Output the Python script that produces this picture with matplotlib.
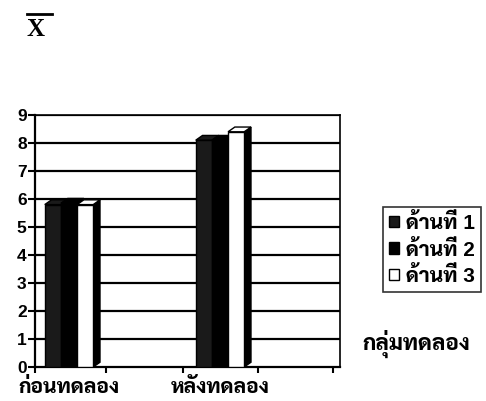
import matplotlib
matplotlib.use('Agg')
import matplotlib.pyplot as plt
from matplotlib.patches import Polygon
from matplotlib.lines import Line2D
import numpy as np

plt.rcParams['font.family'] = ['Liberation Sans', 'Sarabun', 'DejaVu Sans']

categories = ['ก่อนทดลอง', 'หลังทดลอง']
series_names = ['ด้านที่ 1', 'ด้านที่ 2', 'ด้านที่ 3']
side1 = [5.8, 8.1]
side2 = [5.85, 8.1]
side3 = [5.8, 8.4]
yticks = [0, 1, 2, 3, 4, 5, 6, 7, 8, 9]
xlabel_text = 'กลุ่มทดลอง'

fig = plt.figure(figsize=(4.86, 4.01), dpi=100)
ax = fig.add_axes([35/486, 34/401, 305/486, 252/401])

x = np.arange(len(categories))
w = 0.107
dx, dy = 0.045, 0.17
face = ['#1a1a1a', 'black', 'white']
vals = [side1, side2, side3]
offsets = [-w, 0, w]

ax.set_xlim(-0.225, 1.795)
ax.set_ylim(0, 9)

for v in yticks[1:]:
    ax.axhline(v, color='black', lw=1.6, zorder=1)

handles = []
for i, (vs, off) in enumerate(zip(vals, offsets)):
    b = ax.bar(x + off, vs, width=w, color=face[i], edgecolor='black',
               linewidth=1.0, zorder=3, label=series_names[i])
    handles.append(b)
    for xc, v in zip(x + off, vs):
        l, r = xc - w/2, xc + w/2
        side = Polygon([[r, 0], [r + dx, dy], [r + dx, v + dy], [r, v]],
                       closed=True, facecolor='black', edgecolor='black',
                       lw=1.0, zorder=2.5 + i*0.1)
        top = Polygon([[l, v], [l + dx, v + dy], [r + dx, v + dy], [r, v]],
                      closed=True, facecolor=face[i], edgecolor='black',
                      lw=1.0, zorder=2.5 + i*0.1)
        ax.add_patch(side)
        ax.add_patch(top)

for s in ['left', 'bottom', 'top', 'right']:
    ax.spines[s].set_color('black')
ax.spines['left'].set_linewidth(1.6)
ax.spines['bottom'].set_linewidth(1.6)
ax.spines['top'].set_linewidth(1.2)
ax.spines['right'].set_linewidth(1.2)

ax.set_yticks(yticks)
ax.set_yticklabels([str(t) for t in yticks], fontsize=12.5, fontweight='bold')
ax.tick_params(axis='y', length=5, width=1.5, pad=1)

ax.set_xticks([-0.225, 0.245, 0.755, 1.25, 1.75], minor=True)
ax.set_xticks(x)
ax.set_xticklabels(categories, fontsize=15, fontweight=800)
ax.tick_params(axis='x', which='major', length=0, pad=8)
ax.tick_params(axis='x', which='minor', length=4, width=1.5, direction='out')

fig.text(35/486, 1 - 29/401, 'X', fontsize=18, fontweight='bold',
         ha='center', va='center', family=['Liberation Serif'])
fig.add_artist(Line2D([27/486, 52/486], [1 - 14/401, 1 - 14/401],
                      color='black', lw=2, transform=fig.transFigure))

leg = fig.legend(handles=handles, labels=series_names,
                 loc='upper left', bbox_to_anchor=(383/486, 1 - 207/401),
                 frameon=True, fancybox=False, edgecolor='black',
                 prop={'weight': 800, 'size': 15},
                 handlelength=0.45, handleheight=0.45, handletextpad=0.35,
                 borderpad=0.3, labelspacing=0.3, borderaxespad=0)
leg.get_frame().set_linewidth(1.2)
fig.text(362/486, 1 - 344/401, xlabel_text, fontsize=16, fontweight=800,
         ha='left', va='center')

fig.savefig('out.png', dpi=100)
